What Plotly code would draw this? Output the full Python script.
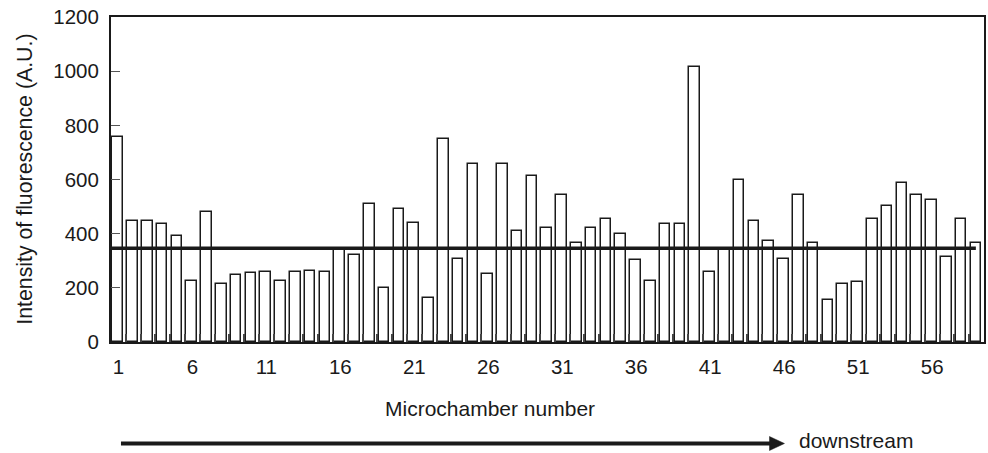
import plotly.graph_objects as go

# ---- data ----
chamber = list(range(1, 60))
intensity = [758, 448, 448, 435, 392, 226, 480, 214, 246, 253,
             258, 226, 258, 264, 258, 340, 321, 511, 201, 491,
             441, 162, 750, 308, 656, 252, 656, 410, 612, 422,
             543, 365, 422, 454, 397, 303, 226, 435, 435, 1016,
             258, 340, 598, 448, 372, 308, 543, 365, 156, 214,
             220, 454, 503, 587, 543, 523, 314, 454, 365]
mean_level = 346
x_tick_vals = [1, 6, 11, 16, 21, 26, 31, 36, 41, 46, 51, 56]
x_tick_text = [str(v) for v in x_tick_vals]
y_tick_vals = [0, 200, 400, 600, 800, 1000, 1200]
boundaries = [c + 0.5 for c in chamber[:-1]]

FONT = "Liberation Sans, Arial, sans-serif"
INK = "#1a1a1a"

fig = go.Figure()
fig.add_trace(go.Bar(
    x=chamber, y=intensity,
    width=0.715, offset=-0.406,
    marker=dict(color="white", line=dict(color=INK, width=1.5)),
    showlegend=False, hoverinfo="x+y",
))

fig.add_shape(type="line", xref="x", yref="y",
              x0=0.5, x1=58.95, y0=mean_level, y1=mean_level,
              line=dict(color=INK, width=3.5))

fig.update_layout(
    width=988, height=453,
    margin=dict(l=111, r=2, t=17, b=111),
    paper_bgcolor="white", plot_bgcolor="white",
    font=dict(family=FONT, size=20.5, color=INK),
    bargap=0,
)
fig.update_xaxes(
    range=[0.5, 59.5], tickmode="array", tickvals=x_tick_vals, ticktext=x_tick_text,
    ticks="", showgrid=False, zeroline=False,
    showline=True, mirror=True, linecolor=INK, linewidth=2,
    ticklabelstandoff=5,
    minor=dict(tickmode="array", tickvals=boundaries, ticks="inside",
               ticklen=8, tickwidth=1.5, tickcolor="#444", showgrid=False),
)
fig.update_yaxes(
    range=[0, 1200], tickmode="array", tickvals=y_tick_vals,
    ticks="inside", ticklen=9, tickwidth=1, tickcolor="#555",
    showgrid=False, zeroline=False,
    showline=True, mirror=True, linecolor=INK, linewidth=2,
    ticklabelstandoff=6,
)

def px_x(p):
    return (p - 111) / 875

def px_y(p):
    return (342 - p) / 325

# axis titles
fig.add_annotation(xref="paper", yref="paper", x=px_x(490.7), y=px_y(408),
                   text="Microchamber number", showarrow=False,
                   xanchor="center", yanchor="middle", font=dict(size=21))
fig.add_annotation(xref="paper", yref="paper", x=px_x(24), y=0.5,
                   text="Intensity of fluorescence (A.U.)", showarrow=False, textangle=-90,
                   xanchor="center", yanchor="middle", font=dict(size=21.3))

# downstream arrow
fig.add_shape(type="line", xref="paper", yref="paper",
              x0=px_x(121), x1=px_x(774), y0=px_y(443.5), y1=px_y(443.5),
              line=dict(color=INK, width=4))
fig.add_shape(type="path", xref="paper", yref="paper",
              path=f"M {px_x(771)} {px_y(436.5)} L {px_x(786)} {px_y(443.5)} L {px_x(771)} {px_y(450.5)} Z",
              fillcolor=INK, line=dict(color=INK, width=0.5))
fig.add_annotation(xref="paper", yref="paper", x=px_x(800), y=px_y(440.5),
                   text="downstream", showarrow=False, borderpad=0,
                   xanchor="left", yanchor="middle", font=dict(size=21))

fig.write_html("out.html",
               config={"displayModeBar": False},
               post_script="document.body.style.margin='0';document.body.style.overflow='hidden';")
